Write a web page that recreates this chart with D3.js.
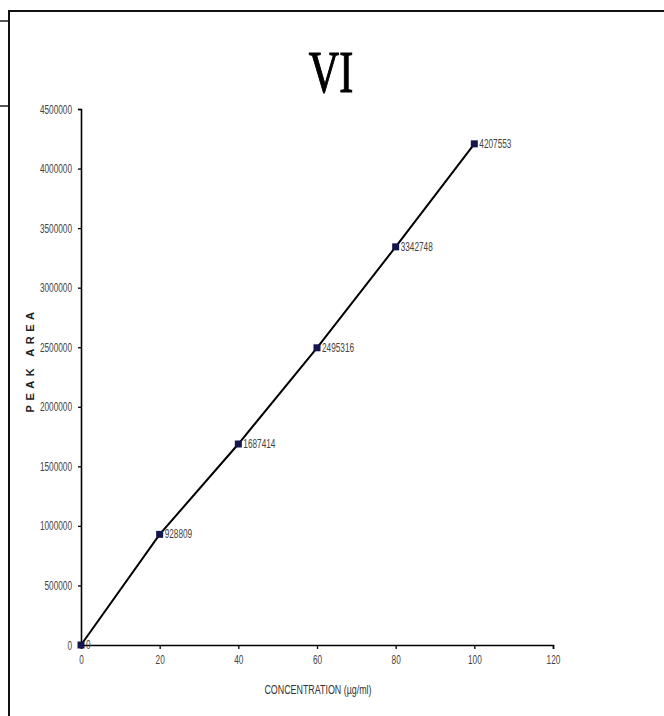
<!DOCTYPE html>
<html>
<head>
<meta charset="utf-8">
<script src="https://cdn.jsdelivr.net/npm/d3@7"></script>
<style>
    body { margin: 0; background: #fff; }
    svg { display: block; }
</style>
</head>
<body>
<script>
// calibration data
const concentrations = [0, 20, 40, 60, 80, 100];
const peakAreas = [0, 928809, 1687414, 2495316, 3342748, 4207553];
const pointLabels = ["0", "928809", "1687414", "2495316", "3342748", "4207553"];
const xTicks = [0, 20, 40, 60, 80, 100, 120];
const yTicks = [0, 500000, 1000000, 1500000, 2000000, 2500000, 3000000, 3500000, 4000000, 4500000];

function narrow(sel, k) {
    // squeeze text horizontally, like the condensed labels in the original
    sel.each(function () {
        const len = this.getComputedTextLength();
        d3.select(this)
            .attr("textLength", len * k)
            .attr("lengthAdjust", "spacingAndGlyphs");
    });
}

function main() {
    const canvasWidth = 664;
    const canvasHeight = 716;

    const svg = d3.select("body").append("svg")
        .attr("width", canvasWidth)
        .attr("height", canvasHeight);

    // panel frame and the bits of the neighbouring panel on the left
    svg.append("rect")
        .attr("x", 9).attr("y", 11)
        .attr("width", 700).attr("height", 760)
        .attr("fill", "none")
        .attr("stroke", "#111")
        .attr("stroke-width", 2);
    svg.append("line").attr("x1", 0).attr("x2", 8).attr("y1", 21).attr("y2", 21)
        .attr("stroke", "#555").attr("stroke-width", 2);
    svg.append("line").attr("x1", 0).attr("x2", 8).attr("y1", 106).attr("y2", 106)
        .attr("stroke", "#555").attr("stroke-width", 2);

    const xScale = d3.scaleLinear().domain([0, 120]).range([81, 553]);
    const yScale = d3.scaleLinear().domain([0, 4500000]).range([645, 109]);

    // title
    svg.append("text")
        .attr("x", 331).attr("y", 92)
        .attr("text-anchor", "middle")
        .attr("font-family", "'Liberation Serif', 'Times New Roman', serif")
        .attr("font-size", 60)
        .attr("fill", "#000")
        .attr("stroke", "#000")
        .attr("stroke-width", 1.2)
        .text("VI")
        .call(narrow, 0.7);

    // axes
    const xAxis = svg.append("g")
        .attr("transform", "translate(0," + yScale(0) + ")")
        .call(d3.axisBottom(xScale).tickValues(xTicks).tickSize(4).tickPadding(6)
            .tickFormat(d => d));

    const yAxis = svg.append("g")
        .attr("transform", "translate(" + xScale(0) + ",0)")
        .call(d3.axisLeft(yScale).tickValues(yTicks).tickSize(3).tickPadding(6)
            .tickFormat(d => d));

    [xAxis, yAxis].forEach(ax => {
        ax.select(".domain").attr("stroke", "#000").attr("stroke-width", 1.6);
        ax.selectAll(".tick line").attr("stroke", "#000").attr("stroke-width", 1.3);
        ax.selectAll(".tick text")
            .attr("font-family", "'Liberation Sans', Arial, sans-serif")
            .attr("font-size", 12.5)
            .attr("fill", "#444")
            .call(narrow, 0.66);
    });

    // axis titles
    svg.append("text")
        .attr("x", 318).attr("y", 694)
        .attr("text-anchor", "middle")
        .attr("font-family", "'Liberation Sans', Arial, sans-serif")
        .attr("font-size", 12)
        .attr("fill", "#333")
        .text("CONCENTRATION (\u00b5g/ml)")
        .call(narrow, 0.74);

    svg.append("text")
        .attr("transform", "translate(34,360) rotate(-90)")
        .attr("text-anchor", "middle")
        .attr("font-family", "'Liberation Sans', Arial, sans-serif")
        .attr("font-weight", "bold")
        .attr("font-size", 11)
        .attr("letter-spacing", 4.5)
        .attr("fill", "#222")
        .text("PEAK AREA");

    // series
    const points = concentrations.map((c, i) => ({ x: c, y: peakAreas[i], label: pointLabels[i] }));

    const line = d3.line()
        .x(d => xScale(d.x))
        .y(d => yScale(d.y));

    svg.append("path")
        .datum(points)
        .attr("d", line)
        .attr("fill", "none")
        .attr("stroke", "#000")
        .attr("stroke-width", 2);

    svg.selectAll(".marker")
        .data(points)
        .enter()
        .append("rect")
        .attr("class", "marker")
        .attr("x", d => xScale(d.x) - 3.5)
        .attr("y", d => yScale(d.y) - 3.5)
        .attr("width", 7)
        .attr("height", 7)
        .attr("fill", "#16164f");

    svg.selectAll(".plabel")
        .data(points)
        .enter()
        .append("text")
        .attr("class", "plabel")
        .attr("x", d => xScale(d.x) + 5)
        .attr("y", d => yScale(d.y) + 4)
        .attr("font-family", "'Liberation Sans', Arial, sans-serif")
        .attr("font-size", 12.5)
        .attr("fill", "#444")
        .text(d => d.label)
        .call(narrow, 0.66);
}
main();
</script>
</body>
</html>
